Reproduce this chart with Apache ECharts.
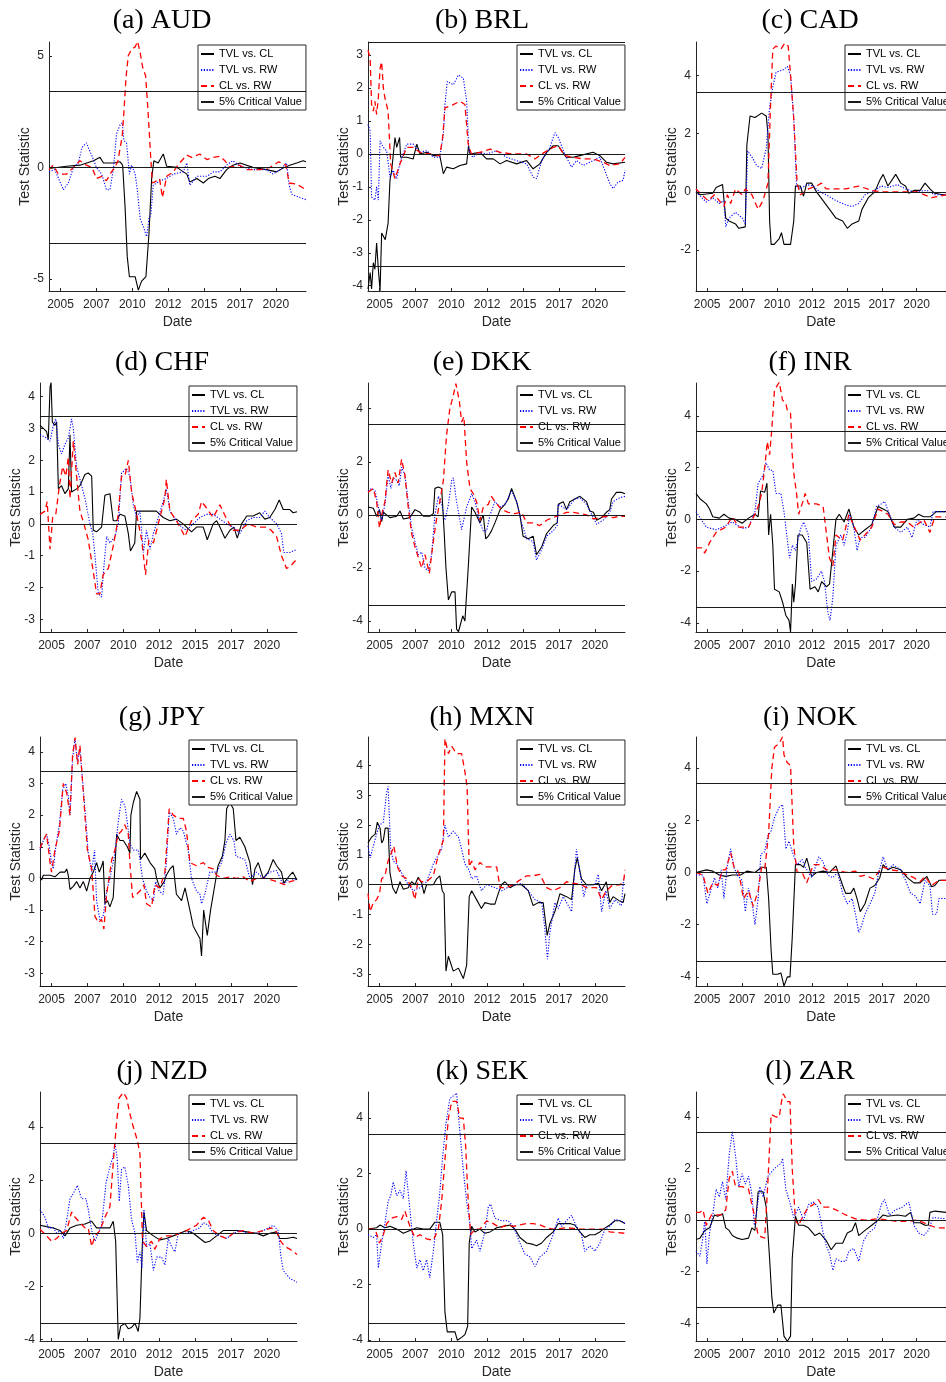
<!DOCTYPE html>
<html><head><meta charset="utf-8">
<script src="https://cdn.jsdelivr.net/npm/echarts@6/dist/echarts.min.js"></script>
<style>html,body{margin:0;padding:0;background:#fff}#chart{width:946px;height:1382px}</style>
</head><body><div id="chart"></div>
<script>
// ---------------- DATA ----------------
const PANEL_TITLES = ['(a) AUD','(b) BRL','(c) CAD','(d) CHF','(e) DKK','(f) INR','(g) JPY','(h) MXN','(i) NOK','(j) NZD','(k) SEK','(l) ZAR'];
const SERIES_NAMES = ['TVL vs. CL','TVL vs. RW','CL vs. RW','5% Critical Value'];
const X_MIN = 2004.2, X_MAX = 2022.1;
const X_TICKS = [2005, 2007.5, 2010, 2012.5, 2015, 2017.5, 2020];
const X_TICK_LABELS = ['2005','2007','2010','2012','2015','2017','2020'];
const CRITICAL_VALUE = 3.4;
const Y_MIN = [-5.54,-4.16,-3.4,-3.4,-4.41,-4.35,-3.4,-3.4,-4.35,-4.06,-4.03,-4.69];
const Y_MAX = [5.62,3.4,5.14,4.43,4.97,5.27,4.47,4.96,5.19,5.32,4.94,4.97];
const Y_TICKS = [[-5,0,5],[-4,-3,-2,-1,0,1,2,3],[-2,0,2,4],[-3,-2,-1,0,1,2,3,4],[-4,-2,0,2,4],[-4,-2,0,2,4],
  [-3,-2,-1,0,1,2,3,4],[-3,-2,-1,0,1,2,3,4],[-4,-2,0,2,4],[-4,-2,0,2,4],[-4,-2,0,2,4],[-4,-2,0,2,4]];

const AUD_TVL_CL = [[2004.2,-0.05],[2005.43,0.05],[2006.36,0.1],[2007.3,0.3],[2007.75,0.45],[2008.0,0.2],[2008.7,0.2],[2009.15,0.25],[2009.33,0.1],[2009.5,-1.8],[2009.65,-4.0],[2009.8,-4.9],[2010.2,-4.9],[2010.42,-5.5],[2010.65,-5.1],[2010.95,-4.9],[2011.16,-3.0],[2011.35,-0.5],[2011.5,0.3],[2011.8,0.2],[2012.16,0.6],[2012.4,0.05],[2013.1,0],[2013.8,-0.3],[2014.0,-0.65],[2014.5,-0.5],[2014.95,-0.7],[2015.3,-0.5],[2015.75,-0.4],[2016.1,-0.5],[2016.57,-0.1],[2017.0,0.1],[2017.5,0.2],[2018.4,0],[2019.35,-0.1],[2020.05,-0.2],[2020.6,0],[2020.97,0.1],[2021.45,0.2],[2021.9,0.3],[2022.1,0.25]];
const AUD_TVL_RW = [[2004.2,-0.2],[2004.6,-0.1],[2005.2,-1.0],[2005.55,-0.7],[2005.9,0],[2006.25,0.2],[2006.5,0.9],[2006.8,1.1],[2007.2,0.5],[2007.5,0],[2007.87,-0.3],[2008.2,-1.0],[2008.45,-1.0],[2008.7,0],[2008.9,1.5],[2009.15,1.9],[2009.3,2.0],[2009.42,1.2],[2009.6,1.1],[2009.8,-0.3],[2009.95,0.1],[2010.2,-0.3],[2010.35,-1.0],[2010.55,-2.3],[2010.8,-2.7],[2011.0,-3.1],[2011.16,-2.3],[2011.3,-2.1],[2011.46,-0.8],[2011.7,-0.7],[2011.9,-0.6],[2012.4,-0.5],[2012.85,-0.3],[2013.55,-0.2],[2013.8,0.2],[2014.0,-0.8],[2014.5,-0.4],[2015.2,-0.4],[2015.65,-0.2],[2016.1,-0.2],[2016.57,0.1],[2017.0,0.3],[2017.5,0.05],[2018.4,-0.1],[2019.35,-0.1],[2019.8,-0.3],[2020.3,-0.1],[2020.75,0.2],[2020.93,-0.8],[2021.1,-1.2],[2021.67,-1.35],[2022.1,-1.45]];
const AUD_CL_RW = [[2004.2,-0.1],[2004.5,0.1],[2004.85,-0.3],[2005.43,-0.3],[2005.9,0],[2006.36,0.3],[2006.8,0.1],[2007.2,0],[2007.5,-0.5],[2007.87,-0.4],[2008.2,-0.6],[2008.55,-0.2],[2008.8,0],[2009.0,0.3],[2009.3,1.4],[2009.42,2.5],[2009.56,4.0],[2009.72,5.0],[2009.95,5.3],[2010.2,5.4],[2010.37,5.65],[2010.53,5.2],[2010.72,4.5],[2010.93,4.1],[2011.1,2.5],[2011.28,0.5],[2011.4,-0.7],[2011.7,-0.6],[2011.9,-0.5],[2012.1,-1.35],[2012.4,-0.4],[2012.85,-0.2],[2013.3,0.2],[2013.8,0.55],[2014.13,0.45],[2014.7,0.6],[2015.2,0.35],[2015.65,0.45],[2016.1,0.5],[2016.45,0.3],[2016.8,0],[2017.5,0.1],[2017.95,-0.1],[2018.9,-0.1],[2019.6,0],[2020.2,0.25],[2020.7,0.1],[2020.93,-0.7],[2021.45,-0.75],[2022.1,-1.0]];

const BRL_TVL_CL = [[2004.2,-4.1],[2004.35,-3.6],[2004.45,-4.1],[2004.57,-3.3],[2004.68,-3.5],[2004.8,-2.7],[2004.92,-3.5],[2005.04,-4.15],[2005.15,-2.4],[2005.4,-2.6],[2005.6,-2.1],[2005.73,-0.8],[2005.85,-0.5],[2006.08,0.5],[2006.2,0.2],[2006.4,0.5],[2006.47,-0.1],[2006.9,-0.1],[2007.35,-0.15],[2007.6,0.3],[2007.82,0],[2008.3,0.05],[2008.75,-0.05],[2009.2,-0.05],[2009.45,-0.6],[2009.67,-0.4],[2010.14,-0.45],[2010.6,-0.35],[2011.07,-0.3],[2011.2,0.25],[2011.3,0],[2012.0,0.05],[2012.46,-0.15],[2012.92,-0.15],[2013.4,-0.3],[2013.85,-0.2],[2014.55,-0.3],[2015.25,-0.2],[2015.7,-0.45],[2016.17,-0.3],[2016.64,0.05],[2017.1,0.25],[2017.45,0.25],[2018.0,-0.1],[2018.5,-0.1],[2018.95,-0.05],[2019.88,0.05],[2020.35,-0.05],[2020.8,-0.25],[2021.27,-0.3],[2022.1,-0.25]];
const BRL_TVL_RW = [[2004.2,0.9],[2004.35,0.7],[2004.45,-1.3],[2004.68,-1.4],[2004.8,-1.0],[2004.92,-1.4],[2005.04,0.4],[2005.27,0.2],[2005.5,0.1],[2005.73,-0.7],[2005.96,-0.5],[2006.2,-0.75],[2006.43,-0.25],[2006.9,0.3],[2007.35,0.3],[2007.82,0.05],[2008.3,0.1],[2008.75,-0.1],[2009.2,-0.1],[2009.45,0.6],[2009.56,1.5],[2009.72,2.2],[2010.14,2.1],[2010.5,2.4],[2010.84,2.3],[2011.07,1.6],[2011.23,0.1],[2011.5,-0.1],[2012.0,0.05],[2012.46,0],[2013.16,0.1],[2013.85,-0.1],[2014.55,-0.2],[2015.25,-0.3],[2015.7,-0.7],[2015.94,-0.75],[2016.3,-0.2],[2016.87,0.2],[2017.22,0.65],[2017.45,0.5],[2017.9,0],[2018.38,-0.4],[2018.72,-0.2],[2019.2,-0.35],[2019.88,-0.2],[2020.35,-0.1],[2021.04,-0.9],[2021.27,-1.05],[2021.62,-0.85],[2021.97,-0.8],[2022.1,-0.5]];
const BRL_CL_RW = [[2004.2,3.15],[2004.35,2.9],[2004.45,1.5],[2004.57,1.3],[2004.68,1.6],[2004.8,1.2],[2004.92,1.7],[2005.04,2.6],[2005.15,2.8],[2005.27,2.0],[2005.38,1.7],[2005.6,1.3],[2005.78,-0.3],[2006.08,-0.75],[2006.43,-0.3],[2006.9,0.2],[2007.35,0.2],[2007.82,0.05],[2008.5,0],[2009.2,-0.05],[2009.4,0.5],[2009.56,1.4],[2010.14,1.5],[2010.6,1.6],[2010.95,1.5],[2011.18,0.3],[2011.4,0],[2012.0,0.05],[2012.7,0.15],[2013.4,0.05],[2014.3,0],[2015.25,0],[2015.83,-0.15],[2016.3,0],[2017.1,0.2],[2017.45,0.25],[2017.9,-0.05],[2018.5,-0.1],[2019.2,-0.15],[2019.88,-0.15],[2020.58,-0.25],[2021.04,-0.35],[2021.75,-0.3],[2022.1,-0.1]];

const CAD_TVL_CL = [[2004.2,0],[2004.48,-0.1],[2005.4,-0.05],[2005.64,0.15],[2006.1,0.25],[2006.33,-0.9],[2006.57,-1.0],[2007.03,-1.1],[2007.26,-1.25],[2007.73,-1.2],[2007.84,1.6],[2008.07,2.6],[2008.42,2.55],[2008.9,2.7],[2009.23,2.6],[2009.35,2.0],[2009.47,-1.0],[2009.58,-1.8],[2009.8,-1.8],[2010.16,-1.6],[2010.32,-1.4],[2010.5,-1.8],[2010.97,-1.8],[2011.2,-1.0],[2011.32,0.2],[2011.67,0.2],[2011.9,-0.15],[2012.13,0.3],[2012.48,0.3],[2012.83,0],[2013.3,-0.3],[2013.76,-0.6],[2014.22,-0.9],[2014.7,-1.0],[2015.03,-1.25],[2015.38,-1.1],[2015.85,-1.0],[2016.08,-0.6],[2016.54,-0.2],[2017.0,0],[2017.36,0.4],[2017.6,0.6],[2017.94,0.2],[2018.5,0.6],[2018.86,0.3],[2019.2,0.2],[2019.44,-0.05],[2019.8,0.05],[2020.25,0.05],[2020.6,0.3],[2020.95,0.1],[2021.3,-0.05],[2021.88,-0.1],[2022.1,-0.1]];
const CAD_TVL_RW = [[2004.2,0],[2004.94,-0.35],[2005.4,-0.2],[2005.87,-0.4],[2006.2,-0.3],[2006.33,-1.2],[2006.57,-0.9],[2007.03,-0.7],[2007.5,-0.9],[2007.73,-1.1],[2007.9,1.4],[2008.2,1.2],[2008.54,0.9],[2008.9,0.8],[2009.23,1.5],[2009.47,2.9],[2009.7,3.6],[2009.93,4.1],[2010.5,4.2],[2010.74,4.3],[2010.97,4.0],[2011.2,2.5],[2011.4,0.2],[2011.67,0.1],[2012.13,0.25],[2012.6,0.2],[2013.06,0],[2013.52,-0.1],[2014.22,-0.3],[2014.92,-0.45],[2015.38,-0.5],[2015.85,-0.4],[2016.3,-0.1],[2016.78,0],[2017.47,0.2],[2017.94,0.15],[2018.63,0.25],[2019.2,0.1],[2019.8,0],[2020.73,0.05],[2021.3,-0.1],[2022.1,-0.1]];
const CAD_CL_RW = [[2004.2,0.1],[2004.6,-0.1],[2005.06,-0.3],[2005.52,-0.1],[2005.87,-0.3],[2006.2,-0.5],[2006.45,-0.1],[2006.68,-0.4],[2007.03,0.1],[2007.5,-0.1],[2007.73,0.1],[2008.2,-0.1],[2008.65,-0.6],[2009.0,-0.3],[2009.35,0.3],[2009.54,3.0],[2009.7,4.9],[2009.93,5.0],[2010.28,4.9],[2010.56,5.1],[2010.8,5.0],[2010.97,4.0],[2011.2,2.5],[2011.44,0.3],[2011.67,-0.1],[2012.25,0.1],[2012.83,0.2],[2013.18,0.3],[2013.52,0.1],[2014.22,0.1],[2014.92,0.1],[2015.85,0.2],[2016.78,0.05],[2017.47,0],[2018.17,0],[2019.33,0],[2020.02,0],[2021.07,-0.2],[2022.1,-0.1]];

const CHF_TVL_CL = [[2004.2,3.1],[2004.43,3.0],[2004.66,2.9],[2004.78,2.65],[2004.9,4.3],[2004.97,4.45],[2005.06,3.2],[2005.24,3.1],[2005.36,3.2],[2005.48,1.1],[2005.7,1.2],[2005.94,0.95],[2006.17,1.1],[2006.29,2.8],[2006.4,1.0],[2006.75,1.1],[2006.98,1.2],[2007.33,1.55],[2007.56,1.6],[2007.8,1.5],[2007.91,-0.2],[2008.14,-0.25],[2008.49,-0.1],[2008.72,0.9],[2009.07,0.95],[2009.3,0.1],[2009.54,0.1],[2009.77,0.3],[2010.11,0.25],[2010.35,-0.3],[2010.5,-0.85],[2010.8,-0.6],[2010.93,0.4],[2011.16,0.4],[2011.6,0.4],[2012.3,0.4],[2012.78,0.2],[2013.25,0.1],[2013.7,0.15],[2014.17,0],[2014.75,-0.25],[2015.1,-0.1],[2015.57,-0.1],[2015.85,-0.5],[2016.26,0],[2016.5,0.1],[2016.73,-0.1],[2017.08,-0.45],[2017.43,-0.2],[2017.7,-0.1],[2017.94,-0.45],[2018.24,0],[2018.6,0.25],[2019.05,0.25],[2019.5,0.35],[2019.86,0.15],[2020.2,0.2],[2020.56,0.45],[2020.86,0.75],[2021.14,0.45],[2021.6,0.45],[2021.83,0.35],[2022.1,0.38]];
const CHF_TVL_RW = [[2004.2,2.8],[2004.66,2.7],[2004.9,2.6],[2005.13,3.1],[2005.3,3.3],[2005.48,2.5],[2005.7,2.2],[2005.94,2.5],[2006.17,2.7],[2006.4,3.3],[2006.52,3.0],[2006.75,1.8],[2007.1,1.2],[2007.33,0.8],[2007.68,0],[2007.87,-0.3],[2008.03,-1.0],[2008.26,-2.2],[2008.49,-2.3],[2008.6,-1.6],[2008.84,-0.4],[2009.07,-0.6],[2009.42,-0.4],[2009.65,0],[2009.88,1.6],[2010.23,1.75],[2010.46,1.5],[2010.7,0.6],[2010.93,0.2],[2011.16,0.4],[2011.4,-0.9],[2011.62,-0.2],[2011.86,-0.8],[2012.1,-0.3],[2012.44,0.2],[2012.78,0.7],[2013.0,1.1],[2013.25,0.4],[2013.7,0.1],[2014.06,-0.1],[2014.4,-0.2],[2014.87,0],[2015.34,0.2],[2015.8,0.3],[2016.26,0.3],[2016.73,0.15],[2017.2,0],[2017.66,-0.1],[2018.12,-0.3],[2018.6,0.1],[2019.05,0.2],[2019.5,0.2],[2019.86,0.4],[2020.2,0.2],[2020.68,0],[2021.02,-0.3],[2021.18,-0.9],[2021.6,-0.9],[2022.1,-0.8]];
const CHF_CL_RW = [[2004.2,0.3],[2004.55,0.4],[2004.7,0.7],[2004.9,-0.8],[2005.08,0.2],[2005.3,0.3],[2005.55,1.2],[2005.78,1.8],[2006.0,1.5],[2006.17,2.1],[2006.29,0.8],[2006.52,2.6],[2006.75,1.5],[2006.98,0.4],[2007.2,0.1],[2007.56,-0.5],[2007.91,-1.5],[2008.14,-2.2],[2008.37,-2.2],[2008.6,-1.6],[2008.96,-1.4],[2009.3,-0.7],[2009.58,0],[2009.88,1.5],[2010.11,1.5],[2010.35,2.0],[2010.58,1.0],[2010.93,0.3],[2011.28,-0.5],[2011.55,-1.6],[2011.78,-0.5],[2012.1,-0.6],[2012.55,0.2],[2012.9,0.8],[2013.0,1.4],[2013.25,0.4],[2013.7,0.1],[2014.3,-0.4],[2014.75,0.1],[2015.22,0.3],[2015.45,0.7],[2015.8,0.5],[2016.26,0.2],[2016.73,0.6],[2017.2,0.15],[2017.66,-0.2],[2018.12,-0.2],[2018.7,0],[2019.28,-0.1],[2019.98,-0.1],[2020.3,-0.2],[2020.68,-0.4],[2021.02,-1.0],[2021.37,-1.4],[2021.6,-1.35],[2022.1,-1.1]];

const DKK_TVL_CL = [[2004.2,0.3],[2004.57,0.25],[2004.8,-0.05],[2005.0,0.2],[2005.15,-0.25],[2005.27,0.1],[2005.73,-0.1],[2006.2,-0.05],[2006.43,0.15],[2006.66,-0.15],[2007.12,-0.1],[2007.47,0.2],[2007.82,0.1],[2008.05,-0.05],[2008.5,-0.05],[2008.75,0.05],[2008.86,1.0],[2009.1,1.05],[2009.33,1.0],[2009.5,-0.6],[2009.63,-2.0],[2009.8,-3.2],[2010.03,-2.9],[2010.26,-2.9],[2010.37,-4.3],[2010.5,-4.4],[2010.8,-3.8],[2010.95,-4.0],[2011.18,-2.0],[2011.42,0.3],[2011.65,0.1],[2012.0,-0.3],[2012.23,0],[2012.4,-0.9],[2012.58,-0.8],[2012.8,-0.6],[2013.04,-0.3],[2013.4,0.2],[2013.74,0.4],[2013.97,0.6],[2014.2,1.0],[2014.55,0.5],[2014.78,0],[2015.0,-0.8],[2015.36,-0.9],[2015.7,-0.8],[2015.94,-1.5],[2016.3,-1.2],[2016.64,-0.7],[2017.1,-0.4],[2017.38,-0.3],[2017.45,0.4],[2017.8,0.5],[2018.03,0.2],[2018.26,0.5],[2018.6,0.6],[2018.96,0.7],[2019.42,0.5],[2019.65,0.15],[2019.9,0.1],[2020.12,-0.2],[2020.47,-0.1],[2020.8,0.1],[2021.04,0.2],[2021.16,0.6],[2021.5,0.85],[2021.85,0.85],[2022.1,0.8]];
const DKK_TVL_RW = [[2004.2,0.9],[2004.45,1.0],[2004.7,0.9],[2004.92,0.3],[2005.15,-0.2],[2005.38,0.4],[2005.6,1.5],[2005.8,1.0],[2005.96,1.4],[2006.2,1.3],[2006.38,1.1],[2006.54,1.8],[2006.77,1.5],[2007.0,0.5],[2007.24,-0.5],[2007.47,-1.0],[2007.7,-1.5],[2007.94,-1.4],[2008.17,-2.0],[2008.4,-2.1],[2008.63,-1.5],[2008.86,0],[2009.1,0.7],[2009.33,0.4],[2009.56,-0.2],[2009.8,0.4],[2010.03,1.3],[2010.14,1.4],[2010.37,0.5],[2010.72,-0.55],[2011.07,0.3],[2011.42,0.8],[2011.65,0.5],[2012.0,-0.3],[2012.23,-0.6],[2012.46,-0.6],[2012.7,0],[2013.04,0.5],[2013.4,0.3],[2013.74,0.4],[2014.2,0.9],[2014.55,0.5],[2014.9,-0.3],[2015.25,-0.9],[2015.7,-1.0],[2015.94,-1.7],[2016.3,-1.3],[2016.64,-0.8],[2017.1,-0.6],[2017.38,-0.4],[2017.45,0.4],[2018.03,0.2],[2018.6,0.6],[2018.96,0.65],[2019.42,0.4],[2019.9,-0.1],[2020.12,-0.35],[2020.58,-0.2],[2021.04,0.1],[2021.27,0.5],[2021.74,0.65],[2022.1,0.7]];
const DKK_CL_RW = [[2004.2,0.85],[2004.57,1.0],[2004.8,0.5],[2005.0,-0.5],[2005.15,0],[2005.38,0.5],[2005.6,1.7],[2005.85,1.2],[2006.08,1.6],[2006.3,1.2],[2006.54,2.1],[2006.77,1.5],[2007.0,0.3],[2007.24,-0.7],[2007.47,-1.2],[2007.7,-1.6],[2007.94,-2.0],[2008.17,-1.5],[2008.47,-2.2],[2008.7,-1.2],[2008.93,-0.3],[2009.2,0.5],[2009.45,1.3],[2009.67,3.0],[2009.9,4.0],[2010.14,4.5],[2010.32,4.95],[2010.56,4.3],[2010.72,3.5],[2010.88,3.7],[2011.07,2.0],[2011.3,1.0],[2011.53,0.8],[2011.76,0.5],[2012.0,-0.2],[2012.23,0.3],[2012.58,0.4],[2012.8,0.7],[2013.04,0.5],[2013.5,0.2],[2013.97,0.1],[2014.43,0.05],[2014.9,0.1],[2015.25,-0.3],[2015.7,-0.3],[2016.17,-0.4],[2016.64,-0.2],[2017.1,-0.1],[2017.57,0],[2018.03,0.1],[2018.5,0.1],[2018.96,0.05],[2019.42,0],[2019.9,-0.15],[2020.35,-0.1],[2020.8,-0.05],[2021.27,-0.1],[2021.74,-0.05],[2022.1,-0.05]];

const INR_TVL_CL = [[2004.2,1.0],[2004.48,0.8],[2004.94,0.6],[2005.17,0.4],[2005.4,0.1],[2005.87,0.05],[2006.2,0.2],[2006.57,0.05],[2007.03,0],[2007.5,-0.15],[2007.96,0.05],[2008.42,0.2],[2008.65,0.1],[2008.82,1.1],[2009.12,1.05],[2009.28,1.4],[2009.4,-0.6],[2009.54,0.2],[2009.7,-1.0],[2009.82,-2.7],[2010.16,-2.8],[2010.4,-3.2],[2010.63,-3.7],[2010.86,-3.9],[2010.97,-4.35],[2011.1,-2.5],[2011.2,-3.2],[2011.32,-2.5],[2011.5,-0.6],[2011.8,-0.6],[2012.13,-0.9],[2012.37,-2.7],[2012.72,-2.6],[2012.95,-2.8],[2013.2,-2.4],[2013.53,-2.6],[2013.76,-2.5],[2014.0,-1.2],[2014.22,0],[2014.46,0.2],[2014.8,-0.1],[2015.15,0.4],[2015.5,-0.3],[2015.85,-0.6],[2016.3,-0.4],[2016.78,-0.2],[2017.24,0.5],[2017.6,0.4],[2017.94,0.3],[2018.4,-0.3],[2018.86,-0.3],[2019.33,0],[2019.8,0.05],[2020.14,0.2],[2020.5,0.1],[2020.95,0.1],[2021.42,0.3],[2022.1,0.3]];
const INR_TVL_RW = [[2004.2,0.3],[2004.94,-0.3],[2005.64,-0.4],[2006.1,-0.3],[2006.8,-0.1],[2007.5,-0.35],[2007.96,-0.3],[2008.42,0.3],[2008.65,1.4],[2009.0,1.7],[2009.2,2.2],[2009.47,1.9],[2009.7,1.9],[2009.93,1.0],[2010.28,1.0],[2010.5,0.3],[2010.74,-0.8],[2010.9,-1.5],[2011.09,-1.0],[2011.32,-1.2],[2011.67,-0.4],[2011.9,-0.1],[2012.25,-0.6],[2012.48,-2.4],[2012.83,-2.3],[2013.18,-2.0],[2013.4,-2.4],[2013.64,-3.6],[2013.8,-3.9],[2014.0,-3.0],[2014.22,-1.0],[2014.57,-0.6],[2014.8,-1.0],[2015.03,-0.5],[2015.2,0.2],[2015.5,-0.3],[2015.73,-1.2],[2015.96,-0.7],[2016.3,-0.7],[2016.78,-0.3],[2017.12,0.5],[2017.47,0.6],[2017.7,0.7],[2018.05,0.2],[2018.4,-0.3],[2018.86,-0.5],[2019.33,-0.3],[2019.67,-0.7],[2020.02,0],[2020.5,-0.2],[2020.95,-0.3],[2021.18,0.3],[2022.1,0.3]];
const INR_CL_RW = [[2004.2,-1.1],[2004.6,-1.1],[2004.83,-1.3],[2005.17,-0.9],[2005.64,-0.5],[2006.33,-0.3],[2006.8,0.1],[2007.26,-0.3],[2007.96,-0.3],[2008.42,0.2],[2008.65,0.5],[2008.9,1.0],[2009.12,2.0],[2009.3,3.0],[2009.47,2.5],[2009.63,3.5],[2009.82,5.0],[2010.16,5.3],[2010.4,4.6],[2010.63,4.5],[2010.74,4.2],[2010.97,4.1],[2011.09,2.5],[2011.2,1.8],[2011.4,1.0],[2011.55,0.2],[2011.8,0.6],[2012.02,1.0],[2012.25,0.6],[2012.83,0.6],[2013.3,0.5],[2013.53,-0.5],[2013.76,-1.5],[2014.0,-1.8],[2014.22,-0.6],[2014.7,-0.8],[2015.15,0.2],[2015.62,-0.4],[2015.96,-0.8],[2016.3,-0.6],[2016.78,-0.3],[2017.24,0.4],[2017.6,0.3],[2017.94,0.2],[2018.4,-0.2],[2018.86,-0.1],[2019.33,-0.1],[2019.8,-0.3],[2020.5,0],[2020.95,-0.5],[2021.3,0.1],[2022.1,0.1]];

const JPY_TVL_CL = [[2004.2,0.05],[2004.31,-0.05],[2004.43,0.1],[2004.9,0.1],[2005.24,0.05],[2005.6,0.2],[2005.94,0.2],[2006.06,0.3],[2006.17,0.1],[2006.29,-0.35],[2006.52,-0.25],[2006.75,-0.1],[2006.98,-0.3],[2007.22,-0.1],[2007.45,-0.4],[2007.68,0],[2007.91,0.2],[2008.14,0.5],[2008.33,0.2],[2008.5,0.4],[2008.6,0.55],[2008.72,-0.8],[2008.9,-0.7],[2009.07,-0.9],[2009.3,-0.6],[2009.54,1.4],[2009.77,1.2],[2010.0,1.2],[2010.28,1.0],[2010.46,0.8],[2010.53,2.0],[2010.7,2.4],[2010.93,2.75],[2011.16,2.5],[2011.2,0.6],[2011.5,0.8],[2011.86,0.5],[2012.2,0.3],[2012.32,0],[2012.55,-0.3],[2012.85,-0.1],[2013.0,0.1],[2013.25,0.3],[2013.48,0.4],[2013.7,-0.5],[2014.06,-0.7],[2014.3,-0.3],[2014.64,-1.0],[2014.87,-1.5],[2015.1,-1.7],[2015.34,-1.9],[2015.45,-2.45],[2015.6,-1.0],[2015.85,-1.8],[2016.08,-1.0],[2016.38,-0.2],[2016.6,0.4],[2016.9,0.7],[2017.08,1.2],[2017.2,2.2],[2017.43,2.4],[2017.66,2.2],[2017.85,1.2],[2018.12,1.3],[2018.47,1.0],[2018.82,0.5],[2019.0,-0.2],[2019.17,0.3],[2019.4,0.5],[2019.75,0],[2020.1,0.2],[2020.44,0.6],[2020.68,0.4],[2021.02,0.2],[2021.18,-0.15],[2021.6,0.1],[2021.8,0.2],[2022.1,-0.05]];
const JPY_TVL_RW = [[2004.2,0.9],[2004.43,1.2],[2004.66,1.4],[2004.85,1.0],[2005.0,0.5],[2005.13,0.3],[2005.3,1.0],[2005.55,1.7],[2005.78,2.8],[2006.0,3.0],[2006.17,2.6],[2006.29,2.0],[2006.47,3.8],[2006.64,4.4],[2006.8,3.7],[2006.98,4.1],[2007.22,2.8],[2007.45,1.5],[2007.56,0.8],[2007.8,0.2],[2008.0,0.9],[2008.14,-0.7],[2008.37,-1.3],[2008.6,-1.2],[2008.84,-0.4],[2009.07,0],[2009.42,0.8],[2009.65,1.8],[2009.88,2.5],[2010.11,2.3],[2010.3,1.7],[2010.46,1.1],[2010.7,0.9],[2011.04,0.9],[2011.16,0.6],[2011.34,0],[2011.62,-0.4],[2011.86,-0.6],[2012.1,-0.7],[2012.26,-0.1],[2012.5,-0.4],[2012.78,-0.5],[2013.0,0.5],[2013.2,2.1],[2013.48,1.9],[2013.7,1.4],[2013.95,1.6],[2014.18,1.5],[2014.52,0.9],[2014.75,0],[2015.1,-0.4],[2015.34,-0.5],[2015.45,-0.8],[2015.68,-0.5],[2016.03,0.2],[2016.5,0.2],[2016.85,0.5],[2017.15,1.1],[2017.43,1.4],[2017.7,1.2],[2017.85,0.7],[2018.47,0.6],[2018.82,0],[2019.28,0.2],[2019.75,0],[2020.2,0.2],[2020.68,0.25],[2021.14,-0.2],[2021.6,0],[2022.1,-0.05]];
const JPY_CL_RW = [[2004.2,0.95],[2004.43,1.2],[2004.66,1.4],[2004.9,0.5],[2005.0,0.2],[2005.24,0.9],[2005.55,1.5],[2005.82,3.0],[2006.06,2.7],[2006.29,2.0],[2006.47,3.9],[2006.64,4.45],[2006.82,3.6],[2006.98,4.2],[2007.22,2.7],[2007.5,0.9],[2007.8,0.3],[2008.03,-1.2],[2008.26,-1.4],[2008.49,-1.3],[2008.65,-1.6],[2008.84,-0.5],[2009.2,0.6],[2009.42,0.9],[2009.65,1.4],[2009.88,1.5],[2010.11,1.7],[2010.35,1.4],[2010.46,0.5],[2010.65,-0.6],[2010.93,-0.5],[2011.16,-0.4],[2011.44,-0.2],[2011.62,-0.8],[2011.97,-0.9],[2012.2,-0.2],[2012.55,-0.3],[2012.9,0.2],[2013.2,2.2],[2013.48,2.0],[2013.83,1.9],[2014.18,1.9],[2014.4,1.5],[2014.64,0.5],[2015.1,0.4],[2015.57,0.5],[2015.9,0.35],[2016.26,0.3],[2016.5,0.1],[2016.96,0],[2017.43,0.05],[2017.9,0],[2018.35,0.05],[2018.82,-0.1],[2019.28,0],[2019.98,0],[2020.68,-0.1],[2021.25,-0.2],[2021.6,-0.1],[2022.1,-0.05]];

const MXN_TVL_CL = [[2004.2,1.4],[2004.45,1.6],[2004.7,1.7],[2004.85,2.1],[2005.04,1.9],[2005.15,1.4],[2005.27,1.5],[2005.4,1.9],[2005.6,1.9],[2005.73,0.4],[2005.92,-0.1],[2006.15,-0.3],[2006.43,0.1],[2006.66,-0.15],[2007.0,-0.1],[2007.24,0.1],[2007.47,0],[2007.7,0.25],[2007.94,0.05],[2008.1,-0.3],[2008.28,0],[2008.75,0],[2008.98,0.2],[2009.2,0.3],[2009.37,-0.2],[2009.5,-0.3],[2009.63,-2.9],[2009.8,-2.4],[2010.14,-2.9],[2010.5,-2.8],[2010.84,-3.15],[2011.07,-2.7],[2011.25,-0.4],[2011.42,-0.2],[2011.76,-0.5],[2012.1,-0.8],[2012.34,-0.6],[2012.7,-0.65],[2013.04,-0.65],[2013.27,-0.3],[2013.5,0],[2013.74,0.1],[2014.1,-0.1],[2014.43,0],[2014.9,0],[2015.36,-0.2],[2015.7,-0.7],[2016.06,-0.6],[2016.4,-0.6],[2016.68,-1.7],[2016.87,-1.3],[2017.22,-0.9],[2017.57,-0.3],[2018.03,-0.4],[2018.38,-0.5],[2018.6,0.5],[2018.77,0.9],[2019.07,0.2],[2019.42,0],[2019.9,0],[2020.24,0.05],[2020.47,-0.2],[2020.8,0.1],[2021.04,-0.6],[2021.27,-0.4],[2021.74,-0.55],[2021.97,-0.6],[2022.1,-0.3]];
const MXN_TVL_RW = [[2004.2,1.3],[2004.35,0.9],[2004.57,1.3],[2004.8,1.7],[2005.0,2.0],[2005.27,2.1],[2005.38,2.6],[2005.5,3.1],[2005.6,3.3],[2005.78,1.2],[2005.96,0.8],[2006.2,0.7],[2006.54,0.4],[2007.0,0],[2007.35,-0.2],[2007.82,-0.1],[2008.28,0.1],[2008.75,0.7],[2008.98,0.9],[2009.33,1.2],[2009.56,2.0],[2009.8,1.6],[2010.14,1.8],[2010.5,1.6],[2010.72,1.2],[2010.95,0.7],[2011.23,0.5],[2011.42,0.2],[2011.76,0.3],[2012.1,-0.2],[2012.46,0],[2013.04,-0.1],[2013.5,-0.2],[2014.1,-0.05],[2014.9,0.05],[2015.36,-0.2],[2015.83,-0.5],[2016.3,-0.6],[2016.5,-1.4],[2016.7,-2.5],[2016.87,-1.6],[2017.22,-0.6],[2017.45,-0.8],[2017.8,-0.4],[2018.15,-0.7],[2018.38,-0.9],[2018.55,0.2],[2018.72,1.2],[2019.0,0.3],[2019.24,-0.4],[2019.42,0],[2020.0,0],[2020.24,0.35],[2020.47,-0.9],[2020.77,-0.2],[2021.04,-0.8],[2021.4,-0.5],[2021.85,-0.7],[2022.0,0.2],[2022.1,0.3]];
const MXN_CL_RW = [[2004.2,-0.3],[2004.35,-0.9],[2004.57,-0.6],[2004.8,-0.5],[2005.0,-0.3],[2005.15,0.2],[2005.38,0.3],[2005.6,0.8],[2005.85,1.1],[2006.0,1.3],[2006.25,0.6],[2006.54,0.3],[2006.9,0.2],[2007.24,-0.1],[2007.47,-0.5],[2007.7,0.2],[2007.94,0.1],[2008.28,0.1],[2008.75,0.3],[2009.1,1.0],[2009.45,1.5],[2009.56,4.9],[2009.8,4.4],[2010.03,4.65],[2010.37,4.4],[2010.72,4.4],[2010.95,3.8],[2011.1,3.3],[2011.25,0.6],[2011.42,0.8],[2011.65,0.5],[2012.0,0.75],[2012.34,0.6],[2012.7,0.6],[2013.16,0.6],[2013.4,-0.1],[2013.85,-0.1],[2014.3,0],[2014.9,0.2],[2015.25,0.3],[2015.7,0.3],[2016.17,0.35],[2016.64,-0.1],[2017.1,-0.2],[2017.57,-0.1],[2018.03,0.1],[2018.5,0.05],[2019.07,0],[2019.42,-0.1],[2020.12,-0.1],[2020.47,-0.5],[2020.8,-0.2],[2021.27,0],[2021.74,0],[2022.0,0.1],[2022.1,0.5]];

const NOK_TVL_CL = [[2004.2,0],[2004.94,0.1],[2005.4,0.05],[2005.87,-0.1],[2006.33,-0.15],[2006.8,-0.1],[2007.38,-0.1],[2007.84,0.05],[2008.42,0],[2008.9,0.2],[2009.23,0.2],[2009.4,-1.0],[2009.58,-3.0],[2009.7,-3.9],[2010.05,-3.9],[2010.28,-3.85],[2010.5,-4.35],[2010.74,-4.0],[2010.93,-4.0],[2011.09,-2.5],[2011.32,0.3],[2011.67,0.3],[2011.9,0.2],[2012.13,0.55],[2012.48,-0.15],[2012.83,0],[2013.3,0.05],[2013.76,0],[2014.22,0.25],[2014.7,-0.5],[2014.92,-0.8],[2015.27,-0.8],[2015.5,-0.6],[2015.73,-1.0],[2015.96,-1.5],[2016.3,-1.2],[2016.66,-0.6],[2017.0,-0.5],[2017.36,-0.2],[2017.6,0.3],[2017.94,0.1],[2018.3,0.2],[2018.86,0.1],[2019.33,-0.2],[2019.8,-0.4],[2020.25,-0.4],[2020.73,-0.15],[2021.07,-0.55],[2021.3,-0.5],[2021.6,-0.3],[2022.1,-0.3]];
const NOK_TVL_RW = [[2004.2,-0.1],[2004.7,-0.1],[2004.98,-1.2],[2005.3,-0.6],[2005.52,-0.2],[2005.76,-0.6],[2006.0,0.1],[2006.2,-1.0],[2006.45,0.3],[2006.68,0.9],[2006.92,0.2],[2007.15,-0.1],[2007.5,-0.3],[2007.73,-1.5],[2007.96,-0.6],[2008.23,-1.2],[2008.42,-2.0],[2008.65,-1.0],[2008.84,0.7],[2009.12,0.8],[2009.35,1.4],[2009.58,1.6],[2009.82,2.1],[2010.16,2.5],[2010.4,2.6],[2010.5,1.9],[2010.63,0.9],[2010.86,1.2],[2011.09,0.8],[2011.44,0.3],[2011.8,0.5],[2012.02,0.2],[2012.48,-0.2],[2013.0,0.6],[2013.3,0.4],[2013.64,-0.1],[2014.0,-0.2],[2014.34,0],[2014.7,-0.8],[2015.03,-1.2],[2015.38,-1.0],[2015.62,-1.6],[2015.85,-2.3],[2016.08,-2.0],[2016.3,-1.6],[2016.66,-1.2],[2017.0,-0.8],[2017.24,-0.1],[2017.6,0.6],[2017.94,0.1],[2018.3,0.3],[2018.86,0.1],[2019.2,-0.3],[2019.56,-0.8],[2019.9,-0.9],[2020.25,-1.2],[2020.6,-0.3],[2020.95,-0.5],[2021.14,-1.6],[2021.42,-1.6],[2021.6,-1.0],[2022.1,-1.0]];
const NOK_CL_RW = [[2004.2,0],[2004.7,-0.1],[2005.06,-0.8],[2005.4,-0.4],[2005.76,-0.5],[2006.1,0.1],[2006.33,0.1],[2006.68,0.75],[2006.92,0.2],[2007.26,0],[2007.6,-1.0],[2007.96,-0.7],[2008.3,-1.3],[2008.65,-0.7],[2008.9,0.2],[2009.12,0.1],[2009.4,1.5],[2009.63,4.0],[2009.82,4.8],[2010.16,4.95],[2010.4,5.2],[2010.5,4.5],[2010.74,4.2],[2010.97,4.1],[2011.2,1.0],[2011.44,0],[2011.8,0],[2012.13,-0.4],[2012.6,0.3],[2013.06,0.3],[2013.53,0.1],[2014.22,0.1],[2014.92,0],[2015.62,0.05],[2015.96,-0.15],[2016.3,-0.1],[2016.9,-0.25],[2017.24,0],[2017.6,0.2],[2018.17,0.1],[2018.75,0.05],[2019.33,-0.1],[2019.8,-0.2],[2020.25,-0.35],[2020.6,-0.15],[2021.07,-0.5],[2021.6,-0.3],[2022.1,-0.3]];

const NZD_TVL_CL = [[2004.2,0.3],[2004.66,0.25],[2005.13,0.2],[2005.6,0.1],[2005.94,-0.1],[2006.29,0.2],[2006.75,0.3],[2007.33,0.35],[2007.8,0.45],[2008.14,0.2],[2008.6,0.2],[2009.07,0.2],[2009.3,0.45],[2009.47,-0.3],[2009.65,-4.0],[2009.82,-3.5],[2010.11,-3.4],[2010.35,-3.6],[2010.58,-3.55],[2010.82,-3.4],[2011.04,-3.7],[2011.16,-3.2],[2011.32,-0.5],[2011.44,0.8],[2011.62,0.1],[2012.1,-0.1],[2012.55,-0.25],[2013.0,-0.2],[2013.48,-0.1],[2013.95,0],[2014.4,0.1],[2014.87,0],[2015.34,-0.2],[2015.7,-0.35],[2016.03,-0.3],[2016.5,-0.1],[2016.96,0.1],[2017.43,0.1],[2017.9,0.1],[2018.6,0.05],[2019.28,0],[2019.75,-0.1],[2020.2,0],[2020.68,0.05],[2020.9,-0.2],[2021.37,-0.2],[2021.83,-0.15],[2022.1,-0.2]];
const NZD_TVL_RW = [[2004.2,0.9],[2004.55,0.6],[2004.78,0.2],[2005.13,0.2],[2005.36,0],[2005.6,0.1],[2005.83,-0.2],[2006.06,0.5],[2006.29,1.3],[2006.52,1.5],[2006.8,1.8],[2007.1,1.3],[2007.4,1.3],[2007.56,0.9],[2007.8,0.1],[2008.03,-0.3],[2008.26,0],[2008.49,0.3],[2008.8,1.9],[2009.07,2.5],[2009.3,2.9],[2009.42,3.4],[2009.58,2.8],[2009.72,1.2],[2009.88,2.4],[2010.11,2.5],[2010.35,1.8],[2010.58,0.5],[2010.82,0],[2010.98,-1.1],[2011.16,-0.7],[2011.3,-1.3],[2011.44,0.9],[2011.62,-0.5],[2011.86,-0.4],[2012.1,-1.4],[2012.32,-0.9],[2012.67,-0.9],[2012.9,-1.2],[2013.13,-0.2],[2013.36,-0.5],[2013.6,-0.7],[2013.83,0],[2014.4,0],[2014.87,0.1],[2015.34,0.2],[2015.57,0.4],[2015.92,0.3],[2016.26,0],[2016.73,-0.1],[2017.2,-0.2],[2017.66,0],[2018.12,0.1],[2018.7,0],[2019.28,0],[2019.75,0.1],[2020.1,0.2],[2020.44,0.3],[2020.8,0.1],[2020.96,-0.8],[2021.14,-1.4],[2021.6,-1.7],[2022.1,-1.85]];
const NZD_CL_RW = [[2004.2,0.15],[2004.66,-0.1],[2005.0,-0.3],[2005.36,-0.2],[2005.7,0],[2006.06,0.1],[2006.4,0.8],[2006.64,0.6],[2006.98,0.4],[2007.33,0.2],[2007.56,0.2],[2007.8,-0.5],[2008.03,-0.1],[2008.37,0.1],[2008.72,0.6],[2009.07,1.0],[2009.35,3.0],[2009.54,4.2],[2009.72,5.1],[2010.0,5.3],[2010.23,5.1],[2010.46,4.5],[2010.7,4.0],[2010.98,3.5],[2011.16,3.0],[2011.34,-0.3],[2011.62,-0.5],[2011.97,-0.3],[2012.2,-0.6],[2012.55,-0.2],[2013.0,-0.1],[2013.48,-0.1],[2013.95,0],[2014.4,0.1],[2015.1,0.3],[2015.57,0.6],[2015.92,0.5],[2016.26,0.1],[2016.73,-0.1],[2017.2,-0.2],[2017.66,0],[2018.35,0.1],[2019.05,0],[2019.75,0.1],[2020.33,0.2],[2020.68,0.05],[2020.96,-0.3],[2021.25,-0.5],[2021.6,-0.6],[2022.1,-0.8]];

const SEK_TVL_CL = [[2004.2,0],[2004.8,0.05],[2005.04,0.15],[2005.38,0.05],[2005.73,0.1],[2006.2,0],[2006.66,-0.15],[2007.12,-0.05],[2007.6,0.05],[2008.05,0],[2008.5,0],[2008.86,0.25],[2009.2,0.25],[2009.4,-0.2],[2009.56,-3.0],[2009.72,-3.7],[2010.03,-3.7],[2010.26,-3.7],[2010.42,-4.0],[2010.72,-3.9],[2010.95,-3.8],[2011.14,-3.5],[2011.25,-0.5],[2011.42,0.1],[2011.65,-0.1],[2012.0,0],[2012.34,-0.15],[2012.7,-0.1],[2013.16,0.05],[2013.62,0.1],[2014.1,0.15],[2014.43,0],[2014.78,-0.3],[2015.25,-0.5],[2015.7,-0.55],[2015.94,-0.6],[2016.3,-0.5],[2016.64,-0.3],[2017.1,-0.1],[2017.45,0.2],[2017.8,0.2],[2018.26,0.2],[2018.6,0.15],[2018.96,-0.1],[2019.3,-0.3],[2019.65,-0.2],[2020.0,-0.2],[2020.35,-0.1],[2020.58,0],[2021.04,0.15],[2021.4,0.3],[2021.74,0.3],[2022.1,0.2]];
const SEK_TVL_RW = [[2004.2,-0.2],[2004.57,-0.3],[2004.8,-0.2],[2004.92,-1.4],[2005.15,-0.5],[2005.38,0.2],[2005.6,1.0],[2005.78,1.2],[2005.96,1.7],[2006.2,1.2],[2006.43,1.4],[2006.66,1.1],[2006.85,2.1],[2007.12,0.7],[2007.35,-0.5],[2007.6,-1.4],[2007.82,-1.1],[2008.05,-1.5],[2008.28,-1.1],[2008.5,-1.75],[2008.75,-0.8],[2008.98,0.3],[2009.2,1.3],[2009.4,2.6],[2009.63,3.8],[2009.9,4.7],[2010.14,4.8],[2010.37,4.9],[2010.6,3.5],[2010.84,2.1],[2011.07,1.0],[2011.3,0.2],[2011.42,-0.7],[2011.76,-0.4],[2012.0,-0.8],[2012.34,-0.1],[2012.58,0.8],[2012.74,0.9],[2013.04,0.4],[2013.5,0.3],[2013.97,0.3],[2014.32,0.1],[2014.78,-0.5],[2015.13,-0.9],[2015.48,-1.0],[2015.83,-1.35],[2016.17,-1.0],[2016.64,-0.8],[2017.1,-0.2],[2017.45,0.4],[2017.68,0.1],[2018.03,0.3],[2018.38,0.5],[2018.72,0.1],[2019.07,-0.2],[2019.3,-0.8],[2019.65,-0.6],[2020.0,-0.8],[2020.35,-0.5],[2020.7,0],[2021.04,0.1],[2021.4,0.35],[2021.85,0.3],[2022.1,0.2]];
const SEK_CL_RW = [[2004.2,0],[2004.7,0],[2005.0,-0.5],[2005.27,-0.2],[2005.5,0.2],[2005.85,0.4],[2006.2,0.45],[2006.54,0.35],[2006.77,0.65],[2007.12,0.1],[2007.47,-0.3],[2007.82,-0.2],[2008.28,-0.35],[2008.75,-0.4],[2009.1,0],[2009.33,1.0],[2009.56,2.5],[2009.8,4.0],[2010.03,4.6],[2010.37,4.6],[2010.6,4.0],[2010.84,4.0],[2011.0,3.0],[2011.18,1.0],[2011.35,-0.2],[2011.65,0],[2012.0,0],[2012.46,0.3],[2012.92,0.2],[2013.4,0.05],[2013.85,0.15],[2014.32,0.1],[2014.78,0.15],[2015.25,0.2],[2015.7,0.2],[2016.17,0.15],[2016.64,0.05],[2017.1,0],[2018.03,0.05],[2018.96,0],[2019.88,0],[2020.58,0],[2021.04,-0.1],[2022.1,-0.15]];

const ZAR_TVL_CL = [[2004.2,-0.75],[2004.48,-0.7],[2004.83,-0.4],[2005.17,-0.3],[2005.52,0.2],[2005.76,0.15],[2006.1,0.25],[2006.33,-0.3],[2006.57,-0.4],[2006.8,-0.6],[2007.15,-0.7],[2007.5,-0.75],[2007.96,-0.7],[2008.2,-0.3],[2008.42,-0.4],[2008.65,1.1],[2009.0,1.1],[2009.23,0.5],[2009.47,-1.5],[2009.63,-3.0],[2009.77,-3.6],[2010.05,-3.3],[2010.28,-3.3],[2010.5,-4.5],[2010.74,-4.7],[2010.97,-4.5],[2011.09,-1.5],[2011.32,0.15],[2011.55,-0.2],[2011.9,-0.2],[2012.25,-0.3],[2012.72,-0.6],[2013.06,-0.5],[2013.53,-0.8],[2013.88,-1.15],[2014.22,-0.9],[2014.7,-0.9],[2015.03,-0.5],[2015.38,-0.4],[2015.62,-0.1],[2015.85,-0.6],[2016.3,-0.4],[2016.78,-0.2],[2017.24,0],[2017.6,0.2],[2017.94,0.15],[2018.63,0.2],[2019.2,0.15],[2019.56,0.3],[2019.8,-0.1],[2020.25,-0.1],[2020.6,-0.2],[2020.84,-0.2],[2020.95,0.3],[2021.3,0.35],[2022.1,0.3]];
const ZAR_TVL_RW = [[2004.2,-1.2],[2004.48,-1.4],[2004.66,-0.8],[2004.83,0],[2004.98,-1.7],[2005.17,-0.5],[2005.4,0.2],[2005.64,1.2],[2005.87,0.9],[2006.1,1.5],[2006.33,0.8],[2006.57,2.5],[2006.8,3.45],[2007.03,2.5],[2007.26,1.3],[2007.5,1.8],[2007.73,1.4],[2007.96,1.7],[2008.2,1.0],[2008.38,-0.2],[2008.54,0.3],[2008.77,1.3],[2009.0,0.9],[2009.35,1.7],[2009.82,2.0],[2010.28,2.2],[2010.4,2.4],[2010.63,1.2],[2010.97,0.6],[2011.2,0.1],[2011.55,0.5],[2011.9,0],[2012.25,0.6],[2012.6,0.7],[2012.95,0.5],[2013.3,-0.5],[2013.53,-1.0],[2013.76,-1.3],[2014.0,-1.95],[2014.22,-1.5],[2014.57,-1.6],[2014.92,-1.6],[2015.15,-1.2],[2015.5,-1.1],[2015.85,-1.6],[2016.2,-0.8],[2016.54,-0.5],[2017.0,-0.3],[2017.47,0.6],[2017.7,0.8],[2018.05,0.2],[2018.5,0.4],[2018.96,0.5],[2019.44,0.7],[2019.8,-0.2],[2020.14,-0.5],[2020.5,-0.6],[2020.84,-0.4],[2021.18,0.1],[2022.1,0.05]];
const ZAR_CL_RW = [[2004.2,0.3],[2004.48,0.3],[2004.7,0.4],[2004.94,-0.2],[2005.3,0.2],[2005.64,0.2],[2006.0,0.2],[2006.33,0.4],[2006.57,1.6],[2006.8,1.9],[2007.03,1.3],[2007.5,1.3],[2007.96,1.2],[2008.2,0.6],[2008.42,0.1],[2008.65,-0.6],[2009.12,-0.7],[2009.35,1.5],[2009.58,4.1],[2009.93,4.0],[2010.16,4.0],[2010.32,4.6],[2010.45,4.9],[2010.74,4.6],[2010.93,4.6],[2011.09,2.0],[2011.32,0],[2011.55,-0.2],[2011.9,0.2],[2012.25,0.5],[2012.6,0.6],[2012.95,0.8],[2013.3,0.5],[2013.76,0.5],[2014.22,0.4],[2014.92,0.2],[2015.62,0.05],[2016.3,0],[2017.24,0.05],[2017.94,0],[2018.63,-0.05],[2019.33,-0.05],[2020.02,0],[2020.5,-0.1],[2020.95,-0.2],[2021.42,-0.3],[2022.1,-0.3]];

const PANEL_SERIES = [
  [AUD_TVL_CL, AUD_TVL_RW, AUD_CL_RW], [BRL_TVL_CL, BRL_TVL_RW, BRL_CL_RW], [CAD_TVL_CL, CAD_TVL_RW, CAD_CL_RW],
  [CHF_TVL_CL, CHF_TVL_RW, CHF_CL_RW], [DKK_TVL_CL, DKK_TVL_RW, DKK_CL_RW], [INR_TVL_CL, INR_TVL_RW, INR_CL_RW],
  [JPY_TVL_CL, JPY_TVL_RW, JPY_CL_RW], [MXN_TVL_CL, MXN_TVL_RW, MXN_CL_RW], [NOK_TVL_CL, NOK_TVL_RW, NOK_CL_RW],
  [NZD_TVL_CL, NZD_TVL_RW, NZD_CL_RW], [SEK_TVL_CL, SEK_TVL_RW, SEK_CL_RW], [ZAR_TVL_CL, ZAR_TVL_RW, ZAR_CL_RW]
];

// ---------------- LAYOUT / STYLE ----------------
const ROW_TOP = [42, 383, 737, 1092];
const PLOT_H = 249, PLOT_W = 257;
const COL_LEFT = [[49, 368, 696], [40, 368, 696], [40, 368, 696], [40, 368, 696]];
const TITLE_X = [162, 482, 810];
const TITLE_Y = [20, 362, 717, 1071];
const SANS = "'Liberation Sans', Arial, Helvetica, sans-serif";
const SERIF = "'Liberation Serif', 'Times New Roman', serif";
const AX = '#262626';
const LINE_STYLES = [
  {color: '#000000', width: 1.1, type: 'solid'},
  {color: '#0000ff', width: 1.1, type: [1.2, 1.6]},
  {color: '#ff0000', width: 1.3, type: [6, 4]}
];

const grid = [], xAxis = [], yAxis = [], series = [], legend = [], title = [];
PANEL_SERIES.forEach((data, i) => {
  const r = Math.floor(i / 3), c = i % 3;
  const left = COL_LEFT[r][c], top = ROW_TOP[r];
  grid.push({left, top, width: PLOT_W, height: PLOT_H});
  title.push({text: PANEL_TITLES[i], left: TITLE_X[c], top: TITLE_Y[r] - 13, textAlign: 'center', padding: 0,
    textStyle: {fontFamily: SERIF, fontSize: 28, fontWeight: 'normal', color: '#000'}});
  xAxis.push({type: 'value', gridIndex: i, min: X_MIN, max: X_MAX,
    name: 'Date', nameLocation: 'middle', nameGap: 24, nameMoveOverlap: false,
    nameTextStyle: {fontFamily: SANS, fontSize: 14, color: AX},
    axisLine: {show: true, onZero: false, lineStyle: {color: AX, width: 1}},
    axisTick: {show: true, inside: true, length: 3, customValues: X_TICKS, lineStyle: {color: AX}},
    axisLabel: {customValues: X_TICKS, margin: 8, fontFamily: SANS, fontSize: 12, color: AX,
      formatter: v => X_TICK_LABELS[X_TICKS.findIndex(t => Math.abs(t - v) < 1e-6)] || ''},
    splitLine: {show: false}});
  yAxis.push({type: 'value', gridIndex: i, min: Y_MIN[i], max: Y_MAX[i],
    name: 'Test Statistic', nameLocation: 'middle', nameGap: 17, nameRotate: 90, nameMoveOverlap: false,
    nameTextStyle: {fontFamily: SANS, fontSize: 14, color: AX},
    axisLine: {show: true, onZero: false, lineStyle: {color: AX, width: 1}},
    axisTick: {show: true, inside: true, length: 3, customValues: Y_TICKS[i], lineStyle: {color: AX}},
    axisLabel: {customValues: Y_TICKS[i], margin: 5, fontFamily: SANS, fontSize: 12, color: AX},
    splitLine: {show: false}});
  data.forEach((d, k) => {
    series.push({type: 'line', name: SERIES_NAMES[k], xAxisIndex: i, yAxisIndex: i, data: d,
      symbol: 'none', showSymbol: false, color: LINE_STYLES[k].color, lineStyle: LINE_STYLES[k],
      silent: true, animation: false});
  });
  series.push({type: 'line', name: SERIES_NAMES[3], xAxisIndex: i, yAxisIndex: i, data: [],
    symbol: 'none', color: '#1a1a1a', lineStyle: {color: '#1a1a1a', width: 1},
    silent: true, animation: false,
    markLine: {silent: true, symbol: ['none', 'none'], label: {show: false}, animation: false,
      lineStyle: {color: '#1a1a1a', width: 1, type: 'solid'},
      emphasis: {disabled: true},
      data: [{yAxis: CRITICAL_VALUE}, {yAxis: -CRITICAL_VALUE}, {yAxis: 0}]}});
  legend.push({orient: 'vertical', left: left + PLOT_W - 108, top: top + 3, data: SERIES_NAMES,
    itemWidth: 13, itemHeight: 12, itemGap: 4, padding: [3, 4, 2, 2], selectedMode: false,
    itemStyle: {opacity: 0, borderWidth: 0},
    borderColor: AX, borderWidth: 1, borderRadius: 0, backgroundColor: '#ffffff',
    textStyle: {fontFamily: SANS, fontSize: 11, color: '#000', lineHeight: 12}});
});

const chart = echarts.init(document.getElementById('chart'), null, {renderer: 'canvas', width: 946, height: 1382});
chart.setOption({backgroundColor: '#ffffff', animation: false, title, grid, xAxis, yAxis, legend, series});
</script>
</body></html>
